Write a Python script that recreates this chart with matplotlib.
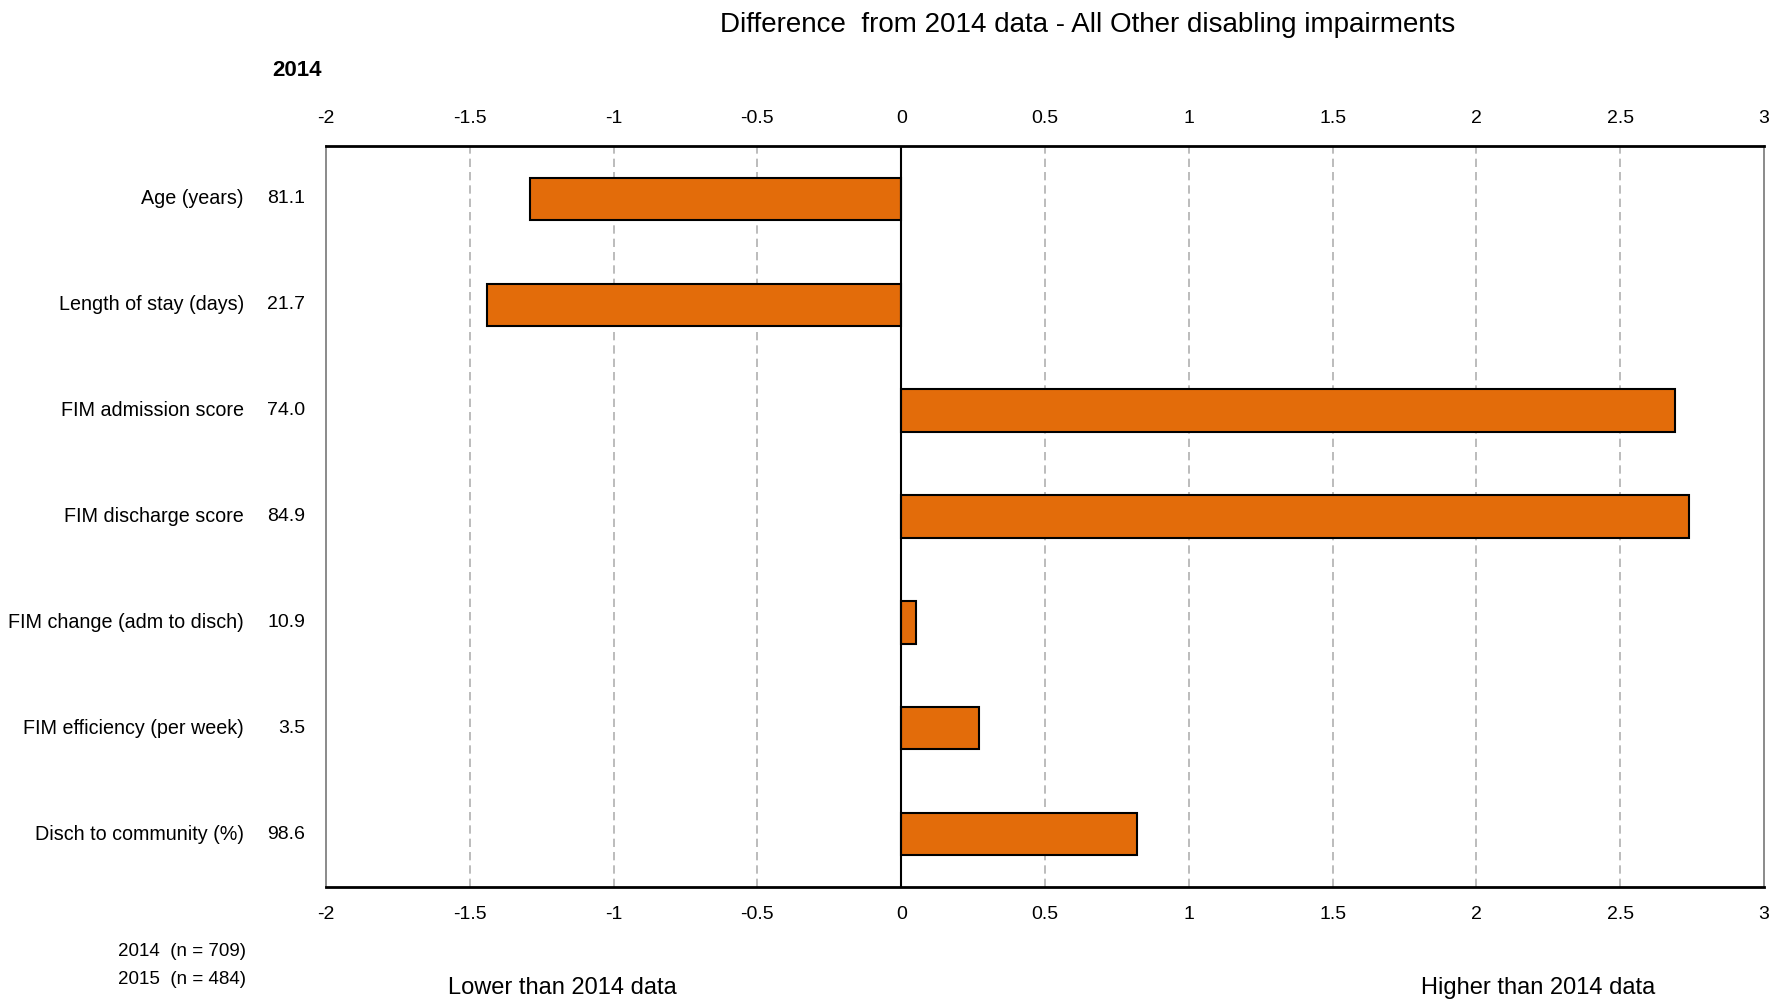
import numpy as np
import matplotlib
matplotlib.use("Agg")
import matplotlib.pyplot as plt
from matplotlib import font_manager

# data
categories = ["Age (years)", "Length of stay (days)", "FIM admission score",
              "FIM discharge score", "FIM change (adm to disch)",
              "FIM efficiency (per week)", "Disch to community (%)"]
values_2014 = ["81.1", "21.7", "74.0", "84.9", "10.9", "3.5", "98.6"]
diff = [-1.29, -1.44, 2.69, 2.74, 0.05, 0.27, 0.82]
xticks = [-2, -1.5, -1, -0.5, 0, 0.5, 1, 1.5, 2, 2.5, 3]
xtick_labels = ["-2", "-1.5", "-1", "-0.5", "0", "0.5", "1", "1.5", "2", "2.5", "3"]
sample_notes = ["2014  (n = 709)", "2015  (n = 484)"]

names = {f.name for f in font_manager.fontManager.ttflist}
fam = "Liberation Sans Narrow" if "Liberation Sans Narrow" in names else "Liberation Sans"
plt.rcParams["font.family"] = [fam, "DejaVu Sans"]

W, H = 1789, 1002
fig = plt.figure(figsize=(W / 100, H / 100), dpi=100)
ax = fig.add_axes([326 / W, 1 - 887 / H, (1764 - 326) / W, (887 - 146) / H])

y = np.arange(len(categories))
ax.barh(y, diff, height=0.4, color="#E36C0A", edgecolor="black", linewidth=1.5, zorder=3)
ax.set_ylim(len(categories) - 0.5, -0.5)
ax.set_xlim(-2, 3)

for t in xticks:
    if t not in (-2, 0, 3):
        ax.axvline(t, color="#b0b0b0", linestyle=(0, (5, 3)), linewidth=1.2, zorder=1)
ax.axvline(0, color="black", linewidth=1.5, zorder=4)

ax.set_xticks(xticks)
ax.set_xticklabels(xtick_labels, fontsize=14)
ax.tick_params(axis="x", length=0, pad=14, top=True, labeltop=True, bottom=True, labelbottom=True)
ax.set_yticks([])

for s in ["top", "bottom"]:
    ax.spines[s].set_linewidth(2)
    ax.spines[s].set_color("black")
for s in ["left", "right"]:
    ax.spines[s].set_linewidth(1.2)
    ax.spines[s].set_color("#777777")

# category labels and 2014 values
for i, (c, v) in enumerate(zip(categories, values_2014)):
    yy = ax.transData.transform((0, i))[1] / H
    fig.text(244 / W, yy, c, ha="right", va="center", fontsize=14.2)
    fig.text(305 / W, yy, v, ha="right", va="center", fontsize=14)

fig.text(1088 / W, 1 - 25 / H, "Difference  from 2014 data - All Other disabling impairments",
         ha="center", va="center", fontsize=20)
fig.text(297 / W, 1 - 71 / H, "2014", ha="center", va="center", fontsize=16, fontweight="bold")
fig.text(246 / W, 1 - 951 / H, sample_notes[0], ha="right", va="center", fontsize=13.5)
fig.text(246 / W, 1 - 979 / H, sample_notes[1], ha="right", va="center", fontsize=13.5)
fig.text(562 / W, 1 - 988 / H, "Lower than 2014 data", ha="center", va="center", fontsize=17)
fig.text(1538 / W, 1 - 988 / H, "Higher than 2014 data", ha="center", va="center", fontsize=17)

fig.savefig("out.png", dpi=100)
